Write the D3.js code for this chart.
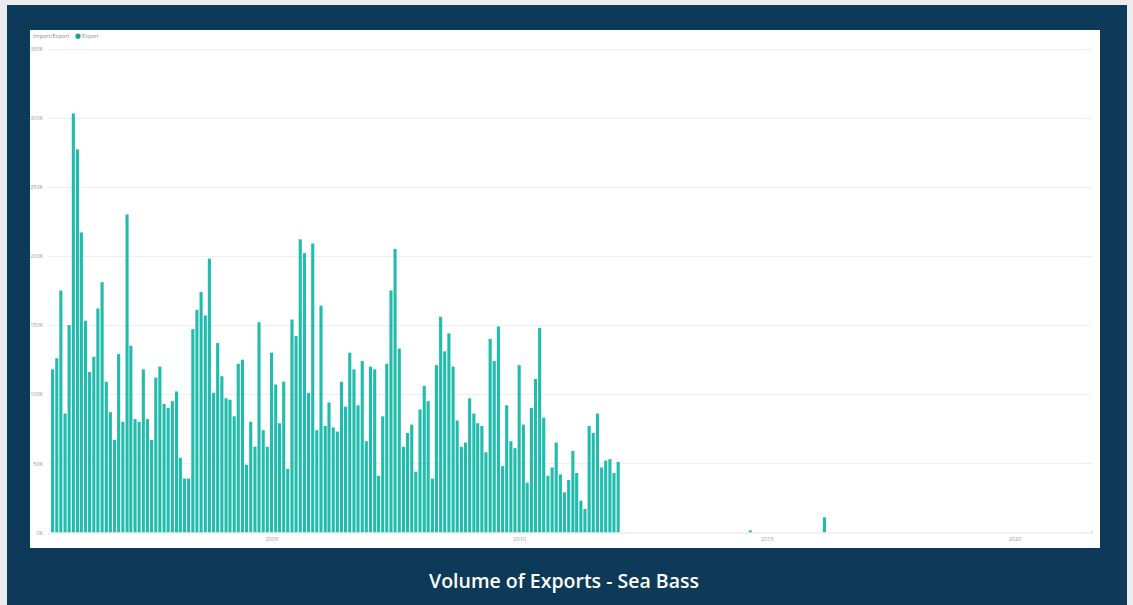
<!DOCTYPE html>
<html>
<head>
<meta charset="utf-8">
<script src="https://cdn.jsdelivr.net/npm/d3@7"></script>
<style>
  html, body { margin: 0; padding: 0; background: #ececec; }
  svg { display: block; }
</style>
</head>
<body>
<svg id="chart" width="1133" height="605"></svg>
<script>
// ---- Data ----
// Monthly export volumes, Aug 2000 .. Jan 2012 (138 months)
const startMonth = "2000-08";
const exportValues = [
  118000, 126000, 175000, 86000, 150000, 303000, 277000, 217000, 153000, 116000, 127000, 162000,
  181000, 109000, 87000, 67000, 129000, 80000, 230000, 135000, 82000, 80000, 118000, 82000,
  67000, 112000, 120000, 93000, 90000, 95000, 102000, 54000, 39000, 39000, 147000, 161000,
  174000, 157000, 198000, 101000, 137000, 113000, 97000, 96000, 84000, 122000, 125000, 49000,
  80000, 62000, 152000, 74000, 62000, 130000, 107000, 79000, 109000, 46000, 154000, 142000,
  212000, 202000, 101000, 209000, 74000, 164000, 77000, 94000, 76000, 73000, 109000, 91000,
  130000, 118000, 92000, 124000, 66000, 120000, 118000, 41000, 84000, 122000, 175000, 205000,
  133000, 62000, 72000, 78000, 44000, 89000, 106000, 95000, 39000, 121000, 156000, 131000,
  144000, 120000, 81000, 62000, 65000, 97000, 86000, 79000, 77000, 58000, 140000, 124000,
  149000, 48000, 92000, 66000, 61000, 121000, 78000, 36000, 90000, 111000, 148000, 83000,
  41000, 47000, 65000, 42000, 29000, 38000, 59000, 43000, 23000, 17000, 77000, 72000,
  86000, 47000, 52000, 53000, 43000, 51000
];
// Isolated later records
const laterDates = ["2014-09", "2016-03"];
const laterValues = [1500, 11000];

const yTicks = [0, 50000, 100000, 150000, 200000, 250000, 300000, 350000];
const xTickYears = [2005, 2010, 2015, 2020];
const legendTitle = "Import/Export";
const legendItem = "Export";
const chartTitle = "Volume of Exports - Sea Bass";

// ---- Build records ----
const parseMonth = d3.timeParse("%Y-%m");
const start = parseMonth(startMonth);
const records = exportValues.map((v, i) => ({ date: d3.timeMonth.offset(start, i), value: v }))
  .concat(laterDates.map((d, i) => ({ date: parseMonth(d), value: laterValues[i] })));

// ---- Layout ----
const svg = d3.select("#chart");
const bg = "#0c3a58";
const teal = "#22bcad";

svg.append("rect").attr("x", 7).attr("y", 5).attr("width", 1120).attr("height", 600).attr("fill", bg);
svg.append("rect").attr("x", 30).attr("y", 30).attr("width", 1070).attr("height", 518).attr("fill", "#ffffff");

const plotLeft = 48, plotRight = 1092;
const x = d3.scaleTime()
  .domain([new Date(2005, 0, 1), new Date(2020, 0, 1)])
  .range([271.5, 1014.5]);
const y = d3.scaleLinear().domain([0, 350000]).range([532.5, 48.5]);

// gridlines
svg.append("g").selectAll("line").data(yTicks.slice(1)).join("line")
  .attr("x1", plotLeft).attr("x2", plotRight)
  .attr("y1", d => Math.round(y(d)) + 0.5).attr("y2", d => Math.round(y(d)) + 0.5)
  .attr("stroke", "#eeeeee").attr("stroke-width", 1);

// y axis labels
const yAxis = d3.axisLeft(y).tickValues(yTicks).tickSize(0)
  .tickFormat(d => (d / 1000) + "K");
const yG = svg.append("g").attr("transform", `translate(${plotLeft - 2},0)`).call(yAxis);
yG.select(".domain").remove();
yG.selectAll("text").attr("fill", "#9a9a9a").attr("font-size", 5.5)
  .attr("font-family", "'Segoe UI', 'Open Sans', sans-serif");

// bars
const monthW = x(new Date(2005, 1, 1)) - x(new Date(2005, 0, 1));
const barW = monthW * 0.74;
svg.append("g").selectAll("rect").data(records).join("rect")
  .attr("x", d => x(d.date) - barW / 2)
  .attr("y", d => y(d.value))
  .attr("width", barW)
  .attr("height", d => y(0) - y(d.value))
  .attr("fill", teal);

// x axis
const xAxis = d3.axisBottom(x)
  .tickValues(xTickYears.map(yr => new Date(yr, 0, 1)))
  .tickSize(0).tickFormat(d3.timeFormat("%Y"));
const xG = svg.append("g").attr("transform", `translate(0,${y(0) + 0.5})`).call(xAxis);
xG.select(".domain").attr("d", `M${plotLeft},0H${plotRight}`).attr("stroke", "#e4e4e4");
xG.selectAll("text").attr("fill", "#9a9a9a").attr("font-size", 5.5).attr("dy", "0.9em")
  .attr("font-family", "'Segoe UI', 'Open Sans', sans-serif");
svg.append("line").attr("x1", plotRight).attr("x2", plotRight)
  .attr("y1", y(0) - 2).attr("y2", y(0) + 1).attr("stroke", "#cfcfcf");

// legend
const lg = svg.append("g").attr("font-family", "'Segoe UI', 'Open Sans', sans-serif")
  .attr("font-size", 5.5).attr("fill", "#8a8a8a");
lg.append("text").attr("x", 33).attr("y", 38).text(legendTitle);
lg.append("circle").attr("cx", 78).attr("cy", 36.2).attr("r", 2.6).attr("fill", "#1aa396");
lg.append("text").attr("x", 82).attr("y", 38).text(legendItem);

// title
svg.append("text").attr("x", 564).attr("y", 588).attr("text-anchor", "middle")
  .attr("fill", "#ffffff").attr("font-size", 19.5).attr("font-weight", 600)
  .attr("font-family", "'Open Sans', sans-serif")
  .text(chartTitle);
</script>
</body>
</html>
